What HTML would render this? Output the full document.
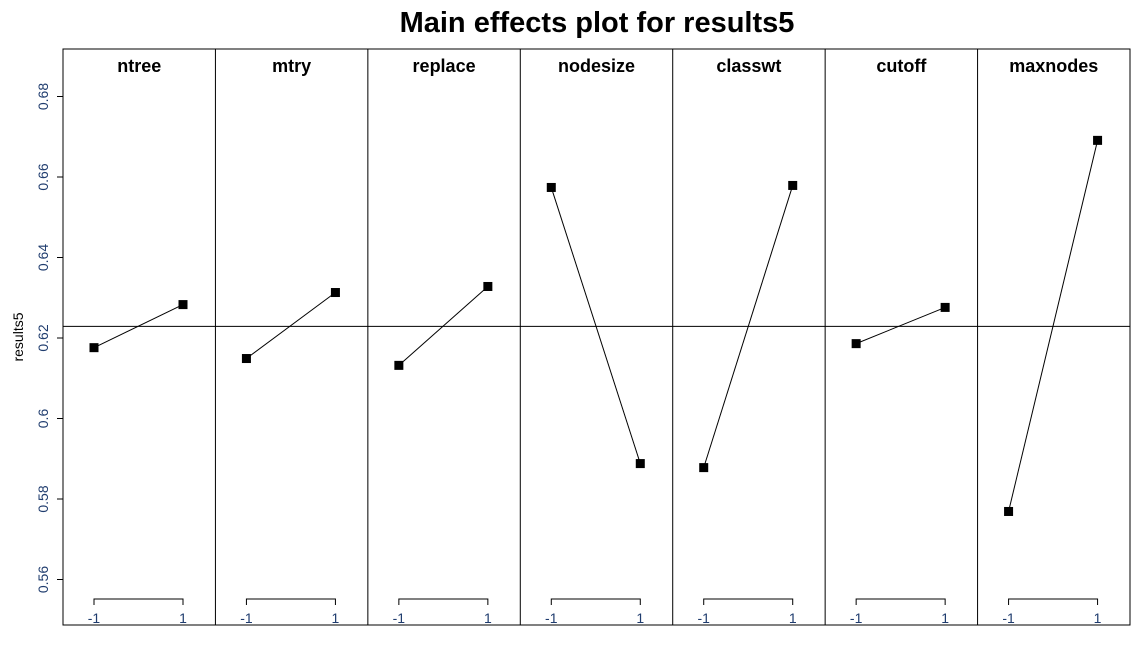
<!DOCTYPE html>
<html><head><meta charset="utf-8"><style>
body{margin:0;background:#fff}
svg{display:block;font-family:"Liberation Sans",sans-serif}
</style></head><body>
<svg id="c" width="1133" height="664" xmlns="http://www.w3.org/2000/svg">
<text x="597" y="32" text-anchor="middle" font-size="29" font-weight="bold">Main effects plot for results5</text>
<text transform="translate(23,337) rotate(-90)" text-anchor="middle" font-size="14">results5</text>
</svg>
<script>
const factors=["ntree","mtry","replace","nodesize","classwt","cutoff","maxnodes"];
const lowVals=[0.6176,0.6149,0.6132,0.6574,0.5878,0.6186,0.5769];
const highVals=[0.6283,0.6313,0.6328,0.5888,0.6579,0.6276,0.6691];
const grandMean=0.6229;
const yTicks=[0.56,0.58,0.6,0.62,0.64,0.66,0.68];
const yTickLabels=["0.56","0.58","0.6","0.62","0.64","0.66","0.68"];
const levelLabels=["-1","1"];
const svg=document.getElementById('c');
const NS="http://www.w3.org/2000/svg";
const L=63,R=1130,T=49,B=625;
const pw=(R-L)/factors.length;
const y=v=>579.5-(v-0.56)/0.02*80.5;
const xLev=(i,k)=>L+i*pw+31+k*89;
function mk(t,a,p){const e=document.createElementNS(NS,t);for(const k in a)e.setAttribute(k,a[k]);(p||svg).appendChild(e);return e;}
let box=mk('rect',{x:L,y:T,width:R-L,height:B-T,fill:'none',stroke:'#000','stroke-width':1});


yTicks.forEach((v,j)=>{
  let g=mk('g',{});
  
  
  mk('line',{x1:57,x2:L,y1:y(v),y2:y(v),stroke:'#000'},g);
  let t=mk('text',{transform:`translate(48,${y(v)}) rotate(-90)`,'text-anchor':'middle','font-size':14,fill:'#1f3c6e'},g);
  t.textContent=yTickLabels[j];
});
let ml=mk('line',{x1:L,x2:R,y1:y(grandMean),y2:y(grandMean),stroke:'#000'});


factors.forEach((f,i)=>{
  const g=mk('g',{});
  
  
  if(i>0)mk('line',{x1:L+i*pw,x2:L+i*pw,y1:T,y2:B,stroke:'#000'},g);
  let t=mk('text',{x:L+i*pw+pw/2,y:72,'text-anchor':'middle','font-size':18,'font-weight':'bold'},g);
  t.textContent=f;
  
  
  const x0=xLev(i,0),x1=xLev(i,1);
  mk('path',{d:`M${x0},605V599H${x1}V605`,fill:'none',stroke:'#000'},g);
  levelLabels.forEach((lb,k)=>{let tt=mk('text',{x:xLev(i,k),y:623,'text-anchor':'middle','font-size':14,fill:'#1f3c6e'},g);tt.textContent=lb;});
  let ln=mk('line',{x1:x0,y1:y(lowVals[i]),x2:x1,y2:y(highVals[i]),stroke:'#000'},g);
  
  
  [[x0,lowVals[i]],[x1,highVals[i]]].forEach(([px,v])=>{
    let r=mk('rect',{x:px-4.5,y:y(v)-4.5,width:9,height:9,fill:'#000'},g);
    
    
  });
});
</script>
</body></html>
